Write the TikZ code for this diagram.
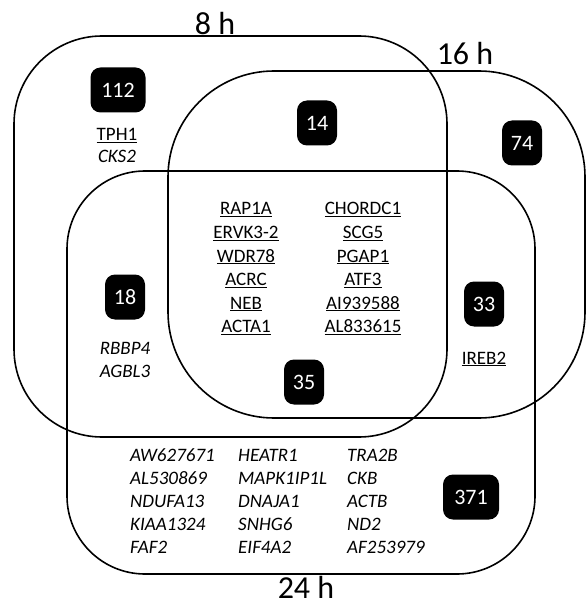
\documentclass[tikz,border=0pt]{standalone}
\usepackage{fontspec}
\setmainfont{Carlito}
\begin{document}
\begin{tikzpicture}[x=1pt,y=-1pt,
  setbox/.style={draw=black,line width=1.6pt},
  badge/.style={fill=black,text=white,rounded corners=10pt,inner sep=0pt,
    minimum height=45pt,font=\fontsize{22}{26}\selectfont},
  gene/.style={anchor=base,inner sep=0pt,font=\fontsize{19}{23}\selectfont},
  listgene/.style={anchor=base west,inner sep=0pt,font=\fontsize{19}{23}\selectfont\itshape},
  setlabel/.style={anchor=base,inner sep=0pt,text height=21pt,text depth=0pt,font=\fontsize{32}{36}\selectfont}]
\useasboundingbox (0,0) rectangle (586,601);
% sets
\draw[setbox,rounded corners=88pt] (14,36) rectangle (447,437);
\draw[setbox,rounded corners=106pt] (168,71) rectangle (585,418);
\draw[setbox,rounded corners=78pt] (67,171) rectangle (535,574);
% set labels
\node[setlabel] (l8) at (215,35) {8 h};
\node[setlabel] (l16) at (465,65) {16 h};
\node[setlabel] (l24) at (306,598) {24 h};
% badges
\node[badge,minimum width=55pt] (b112) at (118,90) {112};
\node[badge,minimum width=40pt] (b14) at (317,123) {14};
\node[badge,minimum width=40pt] (b74) at (522,143) {74};
\node[badge,minimum width=40pt] (b18) at (125,297) {18};
\node[badge,minimum width=40pt] (b33) at (484,304) {33};
\node[badge,minimum width=40pt] (b35) at (304,382) {35};
\node[badge,minimum width=56pt] (b371) at (471,497) {371};
% 8h only
\node[gene] (tph1) at (117,141) {\underline{TPH1}};
\node[gene] (cks2) at (117,163) {\itshape CKS2};
% 8h & 24h
\node[gene] (rbbp4) at (125,354) {\itshape RBBP4};
\node[gene] (agbl3) at (125,377) {\itshape AGBL3};
% 16h & 24h
\node[gene] (ireb2) at (484,364) {\underline{IREB2}};
% center
\foreach \g [count=\i] in {RAP1A,ERVK3-2,WDR78,ACRC,NEB,ACTA1}
  \node[gene] (c1-\i) at (246,{215+23.5*(\i-1)}) {\underline{\g}};
\foreach \g [count=\i] in {CHORDC1,SCG5,PGAP1,ATF3,AI939588,AL833615}
  \node[gene] (c2-\i) at (363,{215+23.5*(\i-1)}) {\underline{\g}};
% 24h only
\foreach \g [count=\i] in {AW627671,AL530869,NDUFA13,KIAA1324,FAF2}
  \node[listgene] (d1-\i) at (130,{461+23*(\i-1)}) {\g};
\foreach \g [count=\i] in {HEATR1,MAPK1IP1L,DNAJA1,SNHG6,EIF4A2}
  \node[listgene] (d2-\i) at (238,{461+23*(\i-1)}) {\g};
\foreach \g [count=\i] in {TRA2B,CKB,ACTB,ND2,AF253979}
  \node[listgene] (d3-\i) at (347,{461+23*(\i-1)}) {\g};
\end{tikzpicture}
\end{document}
